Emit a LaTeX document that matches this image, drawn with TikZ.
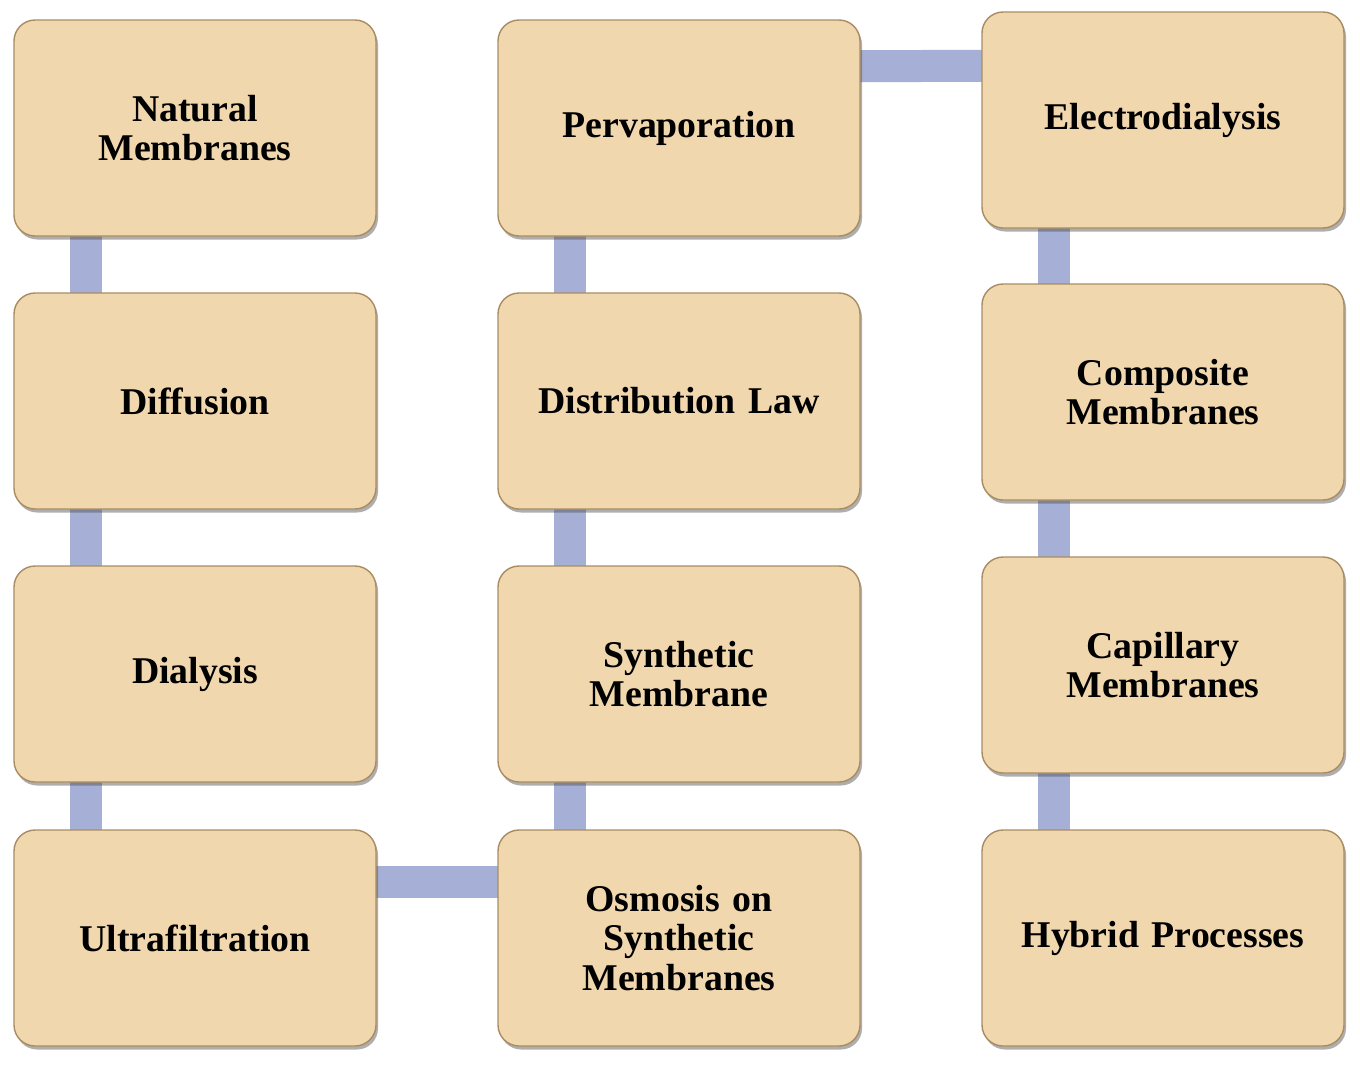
\documentclass[tikz,border=0pt]{standalone}
\usepackage{fontspec}
\setmainfont{Liberation Serif}
\usepackage{xcolor}
\usetikzlibrary{positioning, calc, backgrounds, shadows}
\definecolor{tan}{RGB}{240, 215, 174}
\definecolor{tanedge}{RGB}{170, 140, 98}
\definecolor{linkblue}{RGB}{166, 176, 214}
\definecolor{linkedge}{RGB}{128, 142, 190}

\begin{document}
\begin{tikzpicture}[
  stage/.style={rectangle, rounded corners=12pt, draw=tanedge, thick, fill=tan,
                font=\fontsize{21.5}{22.5}\selectfont\bfseries, text width=6.6cm,
                align=center, minimum width=7.24cm, minimum height=4.32cm,
                inner sep=4pt,
                drop shadow={shadow xshift=0.04cm, shadow yshift=-0.07cm,
                             opacity=0.45, fill=black!70}},
  link/.style={line width=0.64cm, draw=linkblue}
]
  \useasboundingbox (0,0) rectangle (27.2,-21.3);

  %% Left column
  \node[stage] (nat) at (3.9,-2.56)   {Natural\\ Membranes};
  \node[stage] (dif) at (3.9,-8.02)   {Diffusion};
  \node[stage] (dia) at (3.9,-13.48)  {Dialysis};
  \node[stage] (ult) at (3.9,-18.76)  {Ultrafiltration};

  %% Middle column
  \node[stage] (per) at (13.58,-2.56)  {Pervaporation};
  \node[stage] (law) at (13.58,-8.02)  {Distribution Law};
  \node[stage] (syn) at (13.58,-13.48) {Synthetic\\ Membrane};
  \node[stage] (osm) at (13.58,-18.76) {Osmosis on\\ Synthetic\\ Membranes};

  %% Right column
  \node[stage] (ele) at (23.26,-2.40)  {Electrodialysis};
  \node[stage] (cmp) at (23.26,-7.84)  {Composite\\ Membranes};
  \node[stage] (cap) at (23.26,-13.30) {Capillary\\ Membranes};
  \node[stage] (hyb) at (23.26,-18.76) {Hybrid Processes};

  %% Connecting bars
  \begin{scope}[on background layer]
    \foreach \a/\b in {nat/dif, dif/dia, dia/ult, osm/syn, syn/law, law/per,
                       ele/cmp, cmp/cap, cap/hyb}
      \draw[link] ([xshift=-2.18cm]\a.center) -- ([xshift=-2.18cm]\b.center);
    \draw[link] ([yshift=1.12cm]ult.center) -- ([yshift=1.12cm]osm.center);
    \draw[link] ([yshift=1.22cm]per.center) -- ([yshift=1.10cm]ele.center);
  \end{scope}
\end{tikzpicture}
\end{document}
